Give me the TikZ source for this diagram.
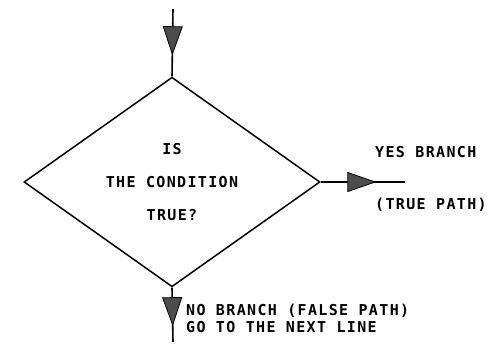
\documentclass[tikz,border=0pt]{standalone}
\usepackage{fontspec}
\newfontfamily\plotfont[LetterSpace=9]{DejaVu Sans Mono}
\usetikzlibrary{shapes.geometric,arrows.meta,decorations.markings}

\begin{document}
\begin{tikzpicture}[
    x=1pt, y=1pt,
    decision/.style={diamond, draw, line width=1.5pt, minimum width=296pt, minimum height=172pt, inner sep=0pt, align=center, font=\plotfont\bfseries\fontsize{15}{33}\selectfont},
    flow/.style={line width=1.6pt, postaction={decorate}},
    midtip/.style={decoration={markings, mark=at position #1 with {\arrow{Triangle[length=29pt, width=20pt, line width=0.8pt, fill=black!70]}}}},
    label/.style={font=\plotfont\bfseries\fontsize{15}{17}\selectfont, inner sep=0pt, anchor=base west}
]
    \useasboundingbox (0,0) rectangle (493,346);

    \coordinate (start) at (173,337);
    \node[decision] (test) at (172,164) {IS\\THE CONDITION\\TRUE?};
    \coordinate (yesend) at (405,164);
    \coordinate (noend) at (173,4);

    \draw[flow, midtip=0.686] (start) -- (test.north);
    \draw[flow, midtip=0.66] (test.east) -- (yesend);
    \draw[flow, midtip=0.71] (test.south) -- (noend);

    % branch labels
    \node[label] (yeslabel) at (375,188) {YES BRANCH};
    \node[label] (truelabel) at (375,137) {(TRUE PATH)};
    \node[label] (nolabel) at (186,31) {NO BRANCH (FALSE PATH)};
    \node[label] (golabel) at (186,14) {GO TO THE NEXT LINE};
\end{tikzpicture}
\end{document}
